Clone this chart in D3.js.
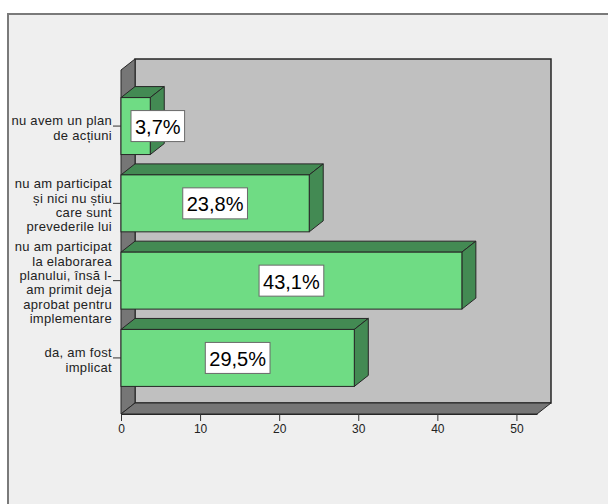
<!DOCTYPE html>
<html>
<head>
<meta charset="utf-8">
<script src="https://cdn.jsdelivr.net/npm/d3@7"></script>
<style>
  html, body { margin: 0; padding: 0; background: #ffffff; }
  svg { display: block; font-family: "Liberation Sans", Arial, sans-serif; }
</style>
</head>
<body>
<svg id="chart" width="608" height="504"></svg>
<script>
// Answers, listed top to bottom as drawn
const categories = [
  ["nu avem un plan", "de acțiuni"],
  ["nu am participat", "și nici nu știu", "care sunt", "prevederile lui"],
  ["nu am participat", "la elaborarea", "planului, însă l-", "am primit deja", "aprobat pentru", "implementare"],
  ["da, am fost", "implicat"]
];
const percents = [3.7, 23.8, 43.1, 29.5];
const xTicks = [0, 10, 20, 30, 40, 50];
const xMax = 52.6;

const svg = d3.select("#chart");

// Panel frame
svg.append("rect")
  .attr("x", 8).attr("y", 14).attr("width", 620).attr("height", 520)
  .attr("fill", "#efefef").attr("stroke", "#7a7a7a").attr("stroke-width", 2);

// Front plane and depth of the 3D box
const front = { left: 121, right: 537, top: 70, bottom: 414 };
const dx = 14, dy = -11;

const x = d3.scaleLinear().domain([0, xMax]).range([front.left, front.right]);
const y = d3.scaleBand()
  .domain(d3.range(categories.length))
  .range([front.top, front.bottom])
  .paddingInner(0.263)
  .paddingOuter(0.357);

const line = d3.line();
const poly = pts => line(pts) + "Z";
const edge = "#262626";

// Back wall
svg.append("rect")
  .attr("x", front.left + dx).attr("y", front.top + dy)
  .attr("width", front.right - front.left).attr("height", front.bottom - front.top)
  .attr("fill", "#c0c0c0").attr("stroke", edge).attr("stroke-width", 1.5);

// Left wall
svg.append("path")
  .attr("d", poly([[front.left, front.top], [front.left + dx, front.top + dy],
                   [front.left + dx, front.bottom + dy], [front.left, front.bottom]]))
  .attr("fill", "#767676").attr("stroke", edge).attr("stroke-width", 1);

// Floor
svg.append("path")
  .attr("d", poly([[front.left, front.bottom], [front.left + dx, front.bottom + dy],
                   [front.right + dx, front.bottom + dy], [front.right, front.bottom]]))
  .attr("fill", "#767676").attr("stroke", edge).attr("stroke-width", 1);

// Bars
const fmt = d3.formatLocale({ decimal: ",", thousands: ".", grouping: [3], currency: ["", ""] }).format(".1f");

const bars = svg.append("g").selectAll("g.bar")
  .data(percents.map((v, i) => ({ v, i })))
  .join("g").attr("class", "bar");

bars.each(function (d) {
  const g = d3.select(this);
  const x0 = x(0), x1 = x(d.v);
  const y0 = y(d.i), y1 = y(d.i) + y.bandwidth();
  // top face
  g.append("path")
    .attr("d", poly([[x0, y0], [x0 + dx, y0 + dy], [x1 + dx, y0 + dy], [x1, y0]]))
    .attr("fill", "#438a53").attr("stroke", edge).attr("stroke-width", 1);
  // side face
  g.append("path")
    .attr("d", poly([[x1, y0], [x1 + dx, y0 + dy], [x1 + dx, y1 + dy], [x1, y1]]))
    .attr("fill", "#438a53").attr("stroke", edge).attr("stroke-width", 1);
  // front face
  g.append("rect")
    .attr("x", x0).attr("y", y0).attr("width", x1 - x0).attr("height", y1 - y0)
    .attr("fill", "#6fdc84").attr("stroke", edge).attr("stroke-width", 1);

  // value label in a white box
  const lbl = g.append("g");
  const t = lbl.append("text")
    .attr("font-size", 20).attr("fill", "#000")
    .attr("text-anchor", "middle").attr("dominant-baseline", "central")
    .text(fmt(d.v) + "%");
  const w = t.node().getComputedTextLength() + 8, h = 31;
  let cx = (x0 + x1) / 2;
  if (cx - w / 2 < x0 + 10) cx = x0 + 10 + w / 2;
  const cy = (y0 + y1) / 2;
  lbl.insert("rect", "text")
    .attr("x", cx - w / 2).attr("y", cy - h / 2).attr("width", w).attr("height", h)
    .attr("fill", "#ffffff").attr("stroke", "#6a6a6a").attr("stroke-width", 1);
  t.attr("x", cx).attr("y", cy + 1);
});

// Category axis: ticks and wrapped labels
const cat = svg.append("g");
categories.forEach((lines, i) => {
  const cy = y(i) + y.bandwidth() / 2;
  cat.append("line")
    .attr("x1", 113).attr("x2", front.left).attr("y1", cy).attr("y2", cy)
    .attr("stroke", "#333").attr("stroke-width", 1);
  const lh = 14.3;
  const startY = cy - (lines.length - 1) * lh / 2 + 1.5;
  const t = cat.append("text")
    .attr("text-anchor", "end").attr("font-size", 13).attr("fill", "#222")
    .attr("letter-spacing", "0.3px")
    .attr("dominant-baseline", "central");
  lines.forEach((s, k) => {
    t.append("tspan").attr("x", 112).attr("y", startY + k * lh).text(s);
  });
});

// Value axis along the front edge of the floor
const axis = d3.axisBottom(x).tickValues(xTicks).tickSize(7).tickSizeOuter(0).tickFormat(d3.format("d"));
const ax = svg.append("g").attr("transform", `translate(0,${front.bottom})`).call(axis);
ax.select(".domain").attr("stroke", edge);
ax.selectAll(".tick line").attr("stroke", "#333");
ax.selectAll(".tick text").attr("font-size", 12).attr("fill", "#222")
  .attr("font-family", "Liberation Sans, Arial, sans-serif").attr("dy", "0.85em").attr("y", 9);
</script>
</body>
</html>
